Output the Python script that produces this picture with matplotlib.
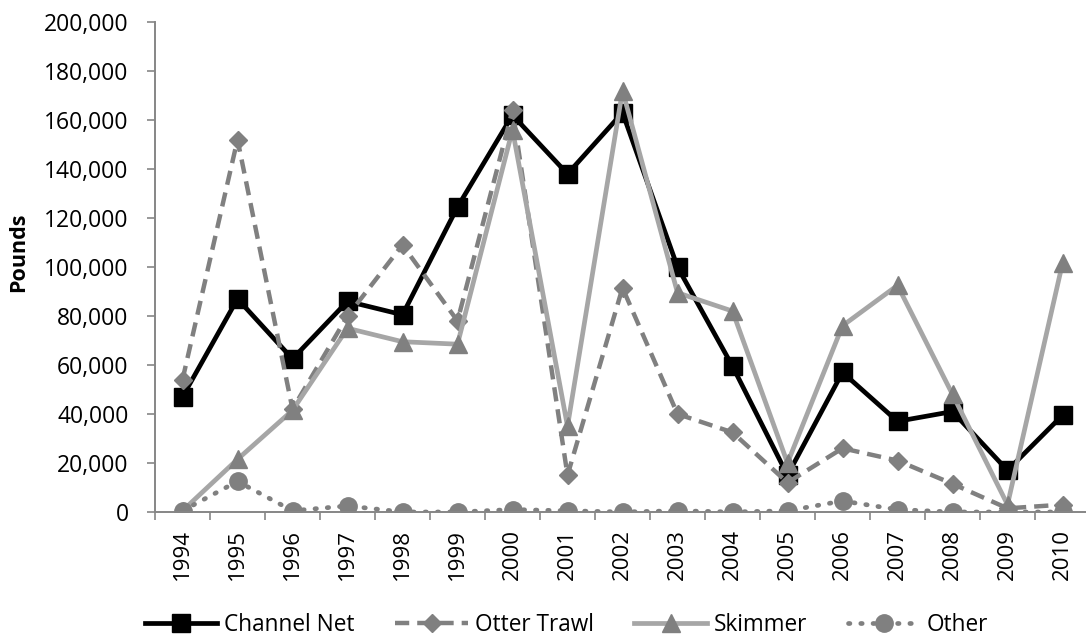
import numpy as np
import matplotlib
matplotlib.use("Agg")
from matplotlib import pyplot as plt
from matplotlib.ticker import FuncFormatter, FixedLocator

years = [str(y) for y in range(1994, 2011)]
channelNet = [47000, 87000, 62500, 86000, 80500, 124500, 162000, 138000, 163000,
              100000, 59500, 15000, 57000, 37000, 41000, 17000, 39500]
otterTrawl = [54000, 152000, 42000, 80000, 109000, 78000, 164000, 15000, 91500,
              40000, 32500, 12000, 26000, 21000, 11500, 1500, 3000]
skimmer = [500, 21500, 41500, 75000, 69500, 68500, 156000, 35000, 172000,
           89500, 82000, 20000, 76000, 92500, 48000, 3000, 101500]
other = [500, 12500, 500, 2500, 0, 0, 1000, 500, 0, 500, 0, 500, 4500, 1000, 0, 0, 0]

plt.rcParams["font.family"] = ["Open Sans", "DejaVu Sans"]

W, H = 1086, 640
fig = plt.figure(figsize=(W / 100, H / 100), dpi=100)
# plot area: x from 155 px to ~1090 px, y from 22 px to 512 px
ax = fig.add_axes([155 / W, 1 - 512 / H, 935 / W, 490 / H])
x = np.arange(len(years))

ax.plot(x, channelNet, color="black", lw=3.4, marker="s", ms=13, label="Channel Net")
ax.plot(x, otterTrawl, color="#808080", lw=3.2, ls=(0, (3.2, 1.8)), marker="D", ms=9.5,
        label="Otter Trawl")
ax.plot(x, skimmer, color="#A6A6A6", lw=3.4, marker="^", ms=13, mfc="#808080",
        mec="#808080", label="Skimmer")
ax.plot(x, other, color="#808080", lw=3.4, ls=(0, (0.3, 2.3)), dash_capstyle="round",
        marker="o", ms=12.5, label="Other")

ax.set_xlim(-0.5, len(years) - 0.5)
ax.set_ylim(0, 200000)
ax.set_yticks(np.arange(0, 200001, 20000))
ax.yaxis.set_major_formatter(FuncFormatter(lambda v, p: f"{int(v):,}"))
ax.set_xticks(x)
ax.set_xticklabels(years, rotation=90)
ax.xaxis.set_minor_locator(FixedLocator(np.arange(-0.5, len(years), 1)))
ax.tick_params(axis="x", which="major", length=0, pad=12, labelsize=16)
ax.tick_params(axis="x", which="minor", length=6, color="#868686", width=1.2)
ax.tick_params(axis="y", length=6, color="#868686", width=1.2, labelsize=16.5, pad=13)

for s in ["top", "right"]:
    ax.spines[s].set_visible(False)
for s in ["left", "bottom"]:
    ax.spines[s].set_color("#868686")
    ax.spines[s].set_linewidth(1.4)

fig.text(19 / W, 1 - 252 / H, "Pounds", rotation=90, ha="center", va="center",
         fontsize=15.5, fontweight="bold")

fig.legend(loc="center left", ncol=4, frameon=False, fontsize=16.3,
           bbox_to_anchor=(145 / W, 1 - 625 / H), borderpad=0, borderaxespad=0,
           handlelength=3.2, columnspacing=1.8, handletextpad=0.3)

fig.savefig("out.png", dpi=100)
